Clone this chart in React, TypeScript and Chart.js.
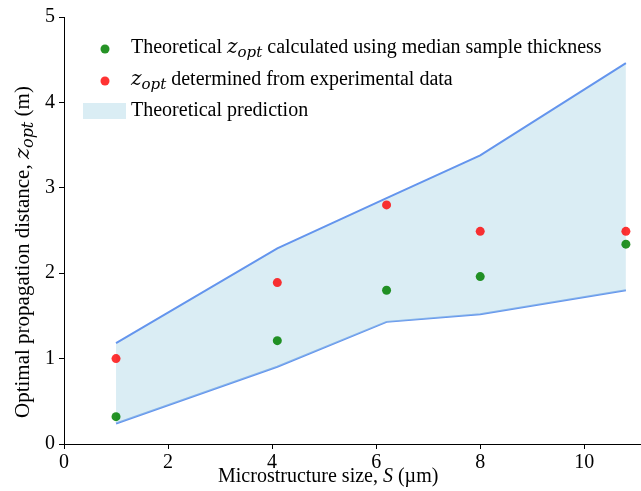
import React, { useEffect, useRef } from 'react';
import { Chart, registerables } from 'chart.js';

Chart.register(...registerables);

// Microstructure sizes S (µm)
const SIZES = [1, 4.1, 6.2, 8, 10.8];
// Upper and lower bounds of the theoretical z_opt prediction (m)
const UPPER_BOUND = [1.18, 2.29, 2.88, 3.38, 4.46];
const LOWER_BOUND = [0.24, 0.905, 1.43, 1.52, 1.8];
// Theoretical z_opt using median sample thickness (m)
const THEORETICAL_MEDIAN = [0.32, 1.21, 1.8, 1.96, 2.34];
// z_opt determined from experimental data (m)
const EXPERIMENTAL = [1.0, 1.89, 2.8, 2.49, 2.49];

const X_TICKS = [0, 2, 4, 6, 8, 10];
const Y_TICKS = [0, 1, 2, 3, 4, 5];

const SERIF = "'Liberation Serif', 'Times New Roman', serif";
const MATH = "'DejaVu Serif', serif";
const BAND_FILL = 'rgba(173, 216, 230, 0.45)';
const BAND_LINE = '#6495ED';
const GREEN = 'rgba(0, 128, 0, 0.85)';
const RED = 'rgba(255, 0, 0, 0.8)';

type Part = { text: string; font: string; dy?: number };

const regular = (size: number) => `${size}px ${SERIF}`;
const italic = (size: number) => `italic ${size}px ${SERIF}`;
const mathItalic = (size: number) => `italic ${size}px ${MATH}`;

function drawParts(ctx: CanvasRenderingContext2D, x: number, y: number, parts: Part[]) {
  let cx = x;
  for (const p of parts) {
    ctx.font = p.font;
    ctx.fillText(p.text, cx, y + (p.dy || 0));
    cx += ctx.measureText(p.text).width;
  }
  return cx;
}

const zOpt = (size: number): Part[] => [
  { text: 'z', font: mathItalic(size) },
  { text: 'opt', font: mathItalic(Math.round(size * 0.75)), dy: 4 },
];

const annotations = {
  id: 'annotations',
  afterDraw(chart: Chart) {
    const ctx = chart.ctx;
    ctx.save();
    ctx.textAlign = 'left';
    ctx.textBaseline = 'alphabetic';

    // legend entries
    ctx.fillStyle = GREEN;
    ctx.beginPath();
    ctx.arc(105, 49, 4.5, 0, Math.PI * 2);
    ctx.fill();
    ctx.fillStyle = RED;
    ctx.beginPath();
    ctx.arc(105, 81, 4.5, 0, Math.PI * 2);
    ctx.fill();
    ctx.fillStyle = BAND_FILL;
    ctx.fillRect(83, 103, 43, 16);

    ctx.fillStyle = '#000';
    drawParts(ctx, 131, 53, [
      { text: 'Theoretical ', font: regular(20) },
      ...zOpt(20),
      { text: ' calculated using median sample thickness', font: regular(20) },
    ]);
    drawParts(ctx, 131, 85, [
      ...zOpt(20),
      { text: ' determined from experimental data', font: regular(20) },
    ]);
    drawParts(ctx, 131, 116, [{ text: 'Theoretical prediction', font: regular(20) }]);

    // x axis title
    drawParts(ctx, 218, 482, [
      { text: 'Microstructure size, ', font: regular(20) },
      { text: 'S', font: italic(20) },
      { text: ' (µm)', font: regular(20) },
    ]);

    // y axis title, rotated
    ctx.translate(29, 418);
    ctx.rotate(-Math.PI / 2);
    drawParts(ctx, 0, 0, [
      { text: 'Optimal propagation distance, ', font: regular(21) },
      ...zOpt(21),
      { text: ' (m)', font: regular(21) },
    ]);
    ctx.restore();
  },
};

const points = (ys: number[]) => SIZES.map((x, i) => ({ x, y: ys[i] }));

// The canvas runs a little past the visible frame so the x axis reaches its edge.
const CANVAS_W = 646;
const CANVAS_H = 491;

export default function App() {
  const canvasRef = useRef<HTMLCanvasElement | null>(null);

  useEffect(() => {
    const canvas = canvasRef.current;
    if (!canvas) return;

    const axisCommon = {
      type: 'linear' as const,
      grid: {
        display: true,
        drawOnChartArea: false,
        drawTicks: true,
        tickLength: 5,
        color: '#000',
        lineWidth: 1,
      },
      border: { display: true, color: '#000', width: 1 },
    };

    const chart = new Chart(canvas, {
      type: 'scatter',
      data: {
        datasets: [
          {
            label: 'experimental',
            data: points(EXPERIMENTAL),
            backgroundColor: RED,
            borderWidth: 0,
            pointRadius: 4.5,
            order: 0,
          },
          {
            label: 'theoretical median',
            data: points(THEORETICAL_MEDIAN),
            backgroundColor: GREEN,
            borderWidth: 0,
            pointRadius: 4.5,
            order: 1,
          },
          {
            label: 'upper',
            data: points(UPPER_BOUND),
            showLine: true,
            borderColor: BAND_LINE,
            borderWidth: 2,
            pointRadius: 0,
            backgroundColor: BAND_FILL,
            fill: '+1',
            tension: 0,
            order: 2,
          },
          {
            label: 'lower',
            data: points(LOWER_BOUND),
            showLine: true,
            borderColor: BAND_LINE,
            borderWidth: 2,
            pointRadius: 0,
            fill: false,
            tension: 0,
            order: 3,
          },
        ],
      },
      options: {
        responsive: false,
        animation: false,
        events: [],
        layout: { padding: { top: 17, left: 0, right: 0, bottom: 0 } },
        plugins: {
          legend: { display: false },
          tooltip: { enabled: false },
        },
        scales: {
          x: {
            ...axisCommon,
            min: 0,
            max: 11.1,
            afterBuildTicks: (s: any) => {
              s.ticks = X_TICKS.map((value) => ({ value }));
            },
            afterFit: (s: any) => {
              s.height = 47;
            },
            ticks: {
              color: '#000',
              font: { family: SERIF, size: 20 },
              padding: 2,
              maxRotation: 0,
              autoSkip: false,
            },
          },
          y: {
            ...axisCommon,
            min: 0,
            max: 5,
            afterBuildTicks: (s: any) => {
              s.ticks = Y_TICKS.map((value) => ({ value }));
            },
            afterFit: (s: any) => {
              s.width = 64;
            },
            ticks: {
              color: '#000',
              font: { family: SERIF, size: 20 },
              padding: 4,
              autoSkip: false,
            },
          },
        },
      },
      plugins: [annotations],
    });

    return () => chart.destroy();
  }, []);

  return (
    <div
      style={{
        position: 'fixed',
        left: 0,
        top: 0,
        width: 641,
        height: 491,
        overflow: 'hidden',
        background: '#fff',
      }}
    >
      <canvas
        ref={canvasRef}
        width={CANVAS_W}
        height={CANVAS_H}
        style={{ width: CANVAS_W, height: CANVAS_H, display: 'block' }}
      />
    </div>
  );
}
